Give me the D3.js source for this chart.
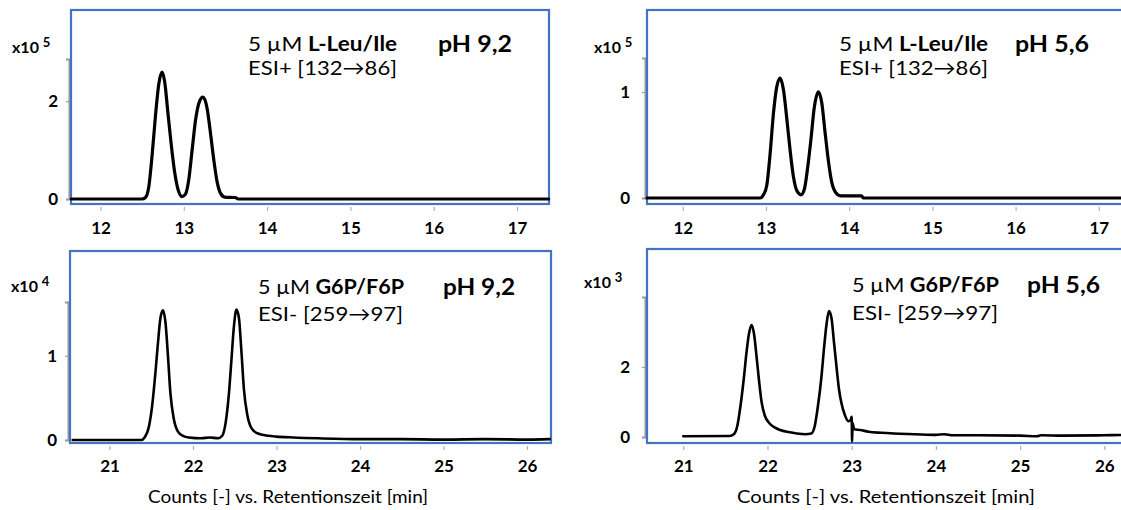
<!DOCTYPE html>
<html><head><meta charset="utf-8">
<script src="https://cdn.jsdelivr.net/npm/d3@7"></script>
<style>
html,body{margin:0;padding:0;background:#fff;}
svg{display:block;}
text{font-family:Lato,"Open Sans",sans-serif;fill:#000;}
</style></head><body>
<svg id="chart" width="1121" height="510"></svg>
<script>
// ---------- data ----------
const xTicksLeu = [12, 13, 14, 15, 16, 17];
const xTicksSugar = [21, 22, 23, 24, 25, 26];
const yTicksLeu92 = [0, 2];
const yTicksLeu56 = [0, 1];
const yTicksG6P92 = [0, 1];
const yTicksG6P56 = [0, 2];
const exponents = ["5", "5", "4", "3"];
const concLabel = "5 \u00B5M ";
const analytes = ["L-Leu/Ile", "L-Leu/Ile", "G6P/F6P", "G6P/F6P"];
const transitions = ["ESI+ [132\u219286]", "ESI+ [132\u219286]", "ESI- [259\u219297]", "ESI- [259\u219297]"];
const phLabels = ["pH 9,2", "pH 5,6", "pH 9,2", "pH 5,6"];
const axisTitle = "Counts [-] vs. Retentionszeit [min]";

// L-Leu/Ile, pH 9,2 (counts x10^5)
const leu92Time   = [11.65,12.50,12.54,12.58,12.62,12.66,12.70,12.74,12.77,12.81,12.85,12.89,12.93,12.98,13.02,13.06,13.10,13.14,13.19,13.23,13.28,13.32,13.36,13.40,13.44,13.49,13.62,13.65,17.38];
const leu92Counts = [0,0,0.03,0.25,0.9,1.7,2.35,2.59,2.4,1.75,1.1,0.55,0.2,0.05,0.1,0.4,1.0,1.6,2.0,2.08,1.85,1.35,0.8,0.35,0.12,0.04,0.03,0,0];
// L-Leu/Ile, pH 5,6 (counts x10^5)
const leu56Time   = [11.57,12.93,12.97,13.01,13.05,13.09,13.13,13.17,13.21,13.25,13.29,13.33,13.37,13.42,13.46,13.50,13.54,13.58,13.63,13.67,13.71,13.75,13.79,13.84,13.90,14.15,14.17,17.32];
const leu56Counts = [0,0,0.03,0.12,0.42,0.8,1.05,1.13,1.02,0.75,0.45,0.2,0.07,0.03,0.08,0.28,0.55,0.85,1.0,0.9,0.62,0.35,0.15,0.05,0.02,0.02,0,0];
// G6P/F6P, pH 9,2 (counts x10^4)
const g6p92Time   = [20.56,21.38,21.42,21.47,21.51,21.55,21.58,21.61,21.64,21.67,21.70,21.73,21.77,21.82,21.88,21.95,22.10,22.20,22.30,22.35,22.39,22.43,22.46,22.49,22.52,22.55,22.58,22.61,22.65,22.70,22.77,22.90,23.00,23.20,23.50,24.00,24.50,25.00,25.50,26.00,26.27];
const g6p92Counts = [0,0,0.03,0.15,0.4,0.8,1.15,1.45,1.54,1.4,1.0,0.55,0.25,0.1,0.05,0.03,0.02,0.03,0.02,0.05,0.2,0.55,0.95,1.35,1.55,1.45,1.05,0.6,0.3,0.14,0.08,0.05,0.04,0.03,0.02,0.01,0.01,0.005,0.01,0.005,0.01];
// G6P/F6P, pH 5,6 (counts x10^3)
const g6p56Time   = [21.00,21.55,21.60,21.64,21.68,21.72,21.75,21.78,21.81,21.84,21.87,21.90,21.93,21.97,22.02,22.08,22.15,22.25,22.35,22.45,22.52,22.56,22.60,22.64,22.67,22.70,22.73,22.76,22.79,22.82,22.85,22.88,22.92,22.96,22.99,23.00,23.005,23.01,23.03,23.10,23.20,23.35,23.50,23.75,24.00,24.10,24.20,24.50,25.00,25.20,25.25,25.50,26.00,26.25];
const g6p56Counts = [0.02,0.03,0.08,0.3,0.9,1.7,2.4,2.95,3.2,2.95,2.3,1.6,1.0,0.6,0.4,0.28,0.2,0.14,0.1,0.08,0.1,0.3,0.9,1.7,2.5,3.2,3.6,3.4,2.7,2.0,1.35,0.95,0.62,0.45,0.5,0.58,-0.13,0.4,0.22,0.2,0.15,0.12,0.1,0.08,0.06,0.08,0.05,0.05,0.04,0.02,0.05,0.04,0.05,0.06];

// ---------- layout ----------
const panels = [
  {time: leu92Time, counts: leu92Counts, xTicks: xTicksLeu, yTicks: yTicksLeu92,
   box: [71, 10, 549, 204], xDom: [11.646, 17.384], yMax: 2.86, y0: 199, yTop: 59, axisX: 69, pad: 8,
   expX: 12, expY: 53, tx: 248, ty1: 51, ty2: 75, tw1: 149, tw2: 149, phX: 438, phY: 52, phW: 74, lw: 3.2,
   tickY: 207, labelY: 233},
  {time: leu56Time, counts: leu56Counts, xTicks: xTicksLeu, yTicks: yTicksLeu56,
   box: [647, 10, 1125, 204], xDom: [11.57, 17.315], yMax: 1.32, y0: 198, yTop: 58, axisX: 645, pad: 12,
   expX: 594, expY: 53, tx: 839, ty1: 51, ty2: 75, tw1: 149, tw2: 149, phX: 1015, phY: 52, phW: 74, lw: 3.2,
   tickY: 207, labelY: 233},
  {time: g6p92Time, counts: g6p92Counts, xTicks: xTicksSugar, yTicks: yTicksG6P92,
   box: [70, 251, 551, 443], xDom: [20.527, 26.287], yMax: 1.64, y0: 440, yTop: 302, axisX: 68, pad: 8,
   expX: 11, expY: 292, tx: 258, ty1: 294, ty2: 321, tw1: 146, tw2: 145, phX: 443, phY: 295, phW: 72, lw: 2.6,
   tickY: 446, labelY: 471},
  {time: g6p56Time, counts: g6p56Counts, xTicks: xTicksSugar, yTicks: yTicksG6P56,
   box: [647, 249, 1125, 443], xDom: [20.569, 26.246], yMax: 4.0, y0: 437, yTop: 297, axisX: 645, pad: 12,
   expX: 584, expY: 288, tx: 852, ty1: 292, ty2: 320, tw1: 147, tw2: 146, phX: 1027, phY: 293, phW: 73, lw: 2.6,
   tickY: 446, labelY: 471}
];
const titles = [{x: 288, y: 503, w: 280}, {x: 886, y: 503, w: 298}];

const svg = d3.select("#chart");

panels.forEach((p, i) => {
  const g = svg.append("g");
  const [bx0, by0, bx1, by1] = p.box;
  const x = d3.scaleLinear().domain(p.xDom).range([bx0, bx1]);
  const y = d3.scaleLinear().domain([0, p.yMax]).range([p.y0, p.yTop]);

  // y axis (gray)
  const yAxis = d3.axisLeft(y).tickValues(p.yTicks).tickSize(3).tickPadding(p.pad).tickFormat(d3.format("d"));
  const ya = g.append("g").attr("transform", `translate(${p.axisX},0)`).call(yAxis);
  ya.select(".domain").attr("stroke", "#9a9a9a").attr("stroke-width", 2);
  ya.selectAll(".tick line").attr("stroke", "#9a9a9a").attr("stroke-width", 1.2);
  ya.selectAll(".tick text").style("font-size", "17px").style("font-weight", "bold").attr("fill", "#000");

  // x axis (faint ticks below box)
  const xAxis = d3.axisBottom(x).tickValues(p.xTicks).tickSize(4).tickPadding(p.labelY - p.tickY - 15).tickFormat(d3.format("d"));
  const xa = g.append("g").attr("transform", `translate(0,${p.tickY})`).call(xAxis);
  xa.select(".domain").remove();
  xa.selectAll(".tick line").attr("stroke", "#b0b0b0").attr("stroke-width", 1.2);
  xa.selectAll(".tick text").style("font-size", "17px").style("font-weight", "bold").attr("fill", "#000");

  // blue frame
  g.append("rect").attr("x", bx0).attr("y", by0).attr("width", bx1 - bx0).attr("height", by1 - by0)
    .attr("fill", "none").attr("stroke", "#4472C4").attr("stroke-width", 2.2);

  // trace
  const pts = d3.zip(p.time, p.counts);
  const line = d3.line().x(d => x(d[0])).y(d => y(d[1])).curve(d3.curveMonotoneX);
  g.append("path").datum(pts).attr("d", line).attr("fill", "none")
    .attr("stroke", "#000").attr("stroke-width", p.lw).attr("stroke-linejoin", "round").attr("stroke-linecap", "round");

  // exponent label
  const ex = g.append("text").attr("x", p.expX).attr("y", p.expY).style("font-size", "16px").style("font-weight", "bold");
  ex.append("tspan").text("x10 ");
  ex.append("tspan").attr("dy", -6).style("font-size", "13px").text(exponents[i]);

  // annotation
  const t1 = g.append("text").attr("x", p.tx).attr("y", p.ty1).style("font-size", "20px")
    .attr("textLength", p.tw1).attr("lengthAdjust", "spacingAndGlyphs");
  t1.append("tspan").text(concLabel);
  t1.append("tspan").style("font-weight", "bold").text(analytes[i]);
  g.append("text").attr("x", p.tx).attr("y", p.ty2).style("font-size", "20px")
    .attr("textLength", p.tw2).attr("lengthAdjust", "spacingAndGlyphs").text(transitions[i]);
  g.append("text").attr("x", p.phX).attr("y", p.phY).style("font-size", "22px").style("font-weight", "bold")
    .attr("textLength", p.phW).attr("lengthAdjust", "spacingAndGlyphs").text(phLabels[i]);
});

titles.forEach(t => {
  svg.append("text").attr("x", t.x).attr("y", t.y).attr("text-anchor", "middle")
    .style("font-size", "18px").attr("textLength", t.w).attr("lengthAdjust", "spacingAndGlyphs").text(axisTitle);
});
</script>
</body></html>
